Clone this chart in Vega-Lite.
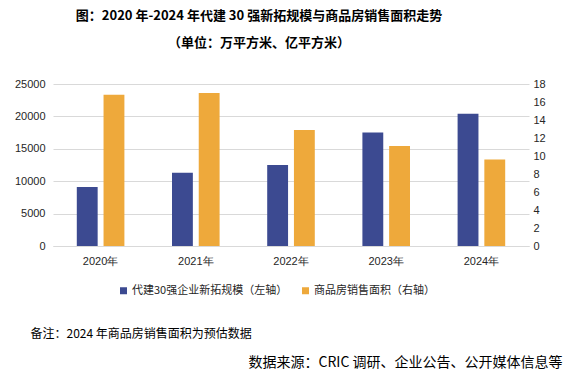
{
  "$schema": "https://vega.github.io/schema/vega-lite/v6.json",
  "autosize": {"type": "none"},
  "width": 476,
  "height": 162,
  "padding": {"left": 53, "top": 84, "right": 43, "bottom": 131},
  "background": "white",
  "title": {
    "text": "图：2020 年-2024 年代建 30 强新拓规模与商品房销售面积走势",
    "subtitle": "（单位：万平方米、亿平方米）",
    "anchor": "middle",
    "frame": "group",
    "dx": -32,
    "offset": 28,
    "font": "Noto Sans CJK SC",
    "fontSize": 13,
    "fontWeight": "bold",
    "color": "#000000",
    "subtitleFont": "Noto Sans CJK SC",
    "subtitleFontSize": 13,
    "subtitleFontWeight": "bold",
    "subtitleColor": "#000000",
    "subtitlePadding": 14
  },
  "data": {
    "values": [
      {"year": "2020年", "scale": 9100, "area": 16.8},
      {"year": "2021年", "scale": 11300, "area": 17.0},
      {"year": "2022年", "scale": 12500, "area": 12.9},
      {"year": "2023年", "scale": 17500, "area": 11.1},
      {"year": "2024年", "scale": 20400, "area": 9.6}
    ]
  },
  "config": {
    "view": {"stroke": null},
    "axis": {
      "labelFont": "Liberation Sans",
      "labelFontSize": 11,
      "labelColor": "#262626",
      "ticks": false
    },
    "legend": {
      "labelFont": "Noto Sans CJK SC",
      "labelFontSize": 11,
      "labelColor": "#262626"
    }
  },
  "layer": [
    {
      "mark": {"type": "bar", "color": "#3C4A91"},
      "encoding": {
        "x": {
          "field": "year",
          "type": "nominal",
          "sort": null,
          "scale": {"paddingInner": 0.5, "paddingOuter": 0.25},
          "axis": {
            "labelAngle": 0,
            "labelPadding": 9,
            "domainColor": "#D9D9D9",
            "title": "备注：2024 年商品房销售面积为预估数据",
            "titleFont": "Noto Sans CJK SC",
            "titleFontSize": 12,
            "titleFontWeight": "normal",
            "titleColor": "#000000",
            "titleAlign": "left",
            "titleBaseline": "middle",
            "titleX": -23,
            "titleY": 87
          }
        },
        "xOffset": {
          "datum": "代建30强企业新拓规模（左轴）",
          "scale": {"domain": ["代建30强企业新拓规模（左轴）", "商品房销售面积（右轴）"], "paddingInner": 0.22, "paddingOuter": 0}
        },
        "y": {
          "field": "scale",
          "type": "quantitative",
          "scale": {"domain": [0, 25000], "nice": false},
          "axis": {
            "orient": "left",
            "values": [0, 5000, 10000, 15000, 20000, 25000],
            "format": "d",
            "title": null,
            "domain": false,
            "grid": true,
            "gridColor": "#D9D9D9",
            "labelPadding": 8
          }
        },
        "color": {
          "datum": "代建30强企业新拓规模（左轴）",
          "scale": {"domain": ["代建30强企业新拓规模（左轴）", "商品房销售面积（右轴）"], "range": ["#3C4A91", "#EEA93B"]},
          "legend": {
            "orient": "none",
            "direction": "horizontal",
            "legendX": 65,
            "legendY": 201,
            "title": null,
            "symbolType": "square",
            "symbolSize": 49,
            "symbolStrokeWidth": 0,
            "labelOffset": 3,
            "columnPadding": 12
          }
        }
      }
    },
    {
      "mark": {"type": "bar", "color": "#EEA93B"},
      "encoding": {
        "x": {"field": "year", "type": "nominal", "sort": null},
        "xOffset": {
          "datum": "商品房销售面积（右轴）",
          "scale": {"domain": ["代建30强企业新拓规模（左轴）", "商品房销售面积（右轴）"], "paddingInner": 0.22, "paddingOuter": 0}
        },
        "y": {
          "field": "area",
          "type": "quantitative",
          "scale": {"domain": [0, 18], "nice": false},
          "axis": {
            "orient": "right",
            "values": [0, 2, 4, 6, 8, 10, 12, 14, 16, 18],
            "domain": false,
            "grid": false,
            "labelPadding": 4,
            "title": "数据来源：CRIC 调研、企业公告、公开媒体信息等",
            "titleFont": "Noto Sans CJK SC",
            "titleFontSize": 14,
            "titleFontWeight": "normal",
            "titleColor": "#000000",
            "titleAngle": 0,
            "titleAlign": "right",
            "titleBaseline": "middle",
            "titleX": 33,
            "titleY": 278
          }
        },
        "color": {"datum": "商品房销售面积（右轴）"}
      }
    }
  ],
  "resolve": {"scale": {"y": "independent"}}
}
